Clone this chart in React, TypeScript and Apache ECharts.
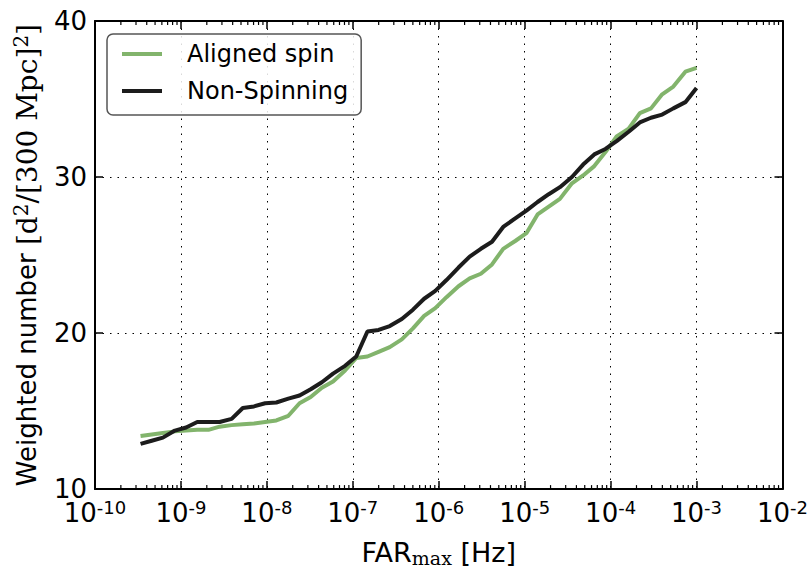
import React, { useEffect, useRef } from "react";
import * as echarts from "echarts";

// log10 of FAR_max [Hz] for each sample
const EXPONENTS = [
  -9.47, -9.34, -9.21, -9.07, -8.94, -8.81, -8.68, -8.55, -8.41, -8.28,
  -8.15, -8.02, -7.89, -7.75, -7.62, -7.49, -7.36, -7.23, -7.09, -6.96,
  -6.83, -6.7, -6.57, -6.43, -6.3, -6.17, -6.04, -5.91, -5.77, -5.64,
  -5.51, -5.38, -5.25, -5.11, -4.98, -4.85, -4.72, -4.59, -4.45, -4.32,
  -4.19, -4.06, -3.93, -3.79, -3.66, -3.53, -3.4, -3.27, -3.13, -3.0,
];

const ALIGNED_SPIN = [
  13.4, 13.5, 13.6, 13.7, 13.75, 13.8, 13.8, 14.0, 14.1, 14.15,
  14.2, 14.3, 14.4, 14.7, 15.5, 15.9, 16.5, 16.9, 17.6, 18.4,
  18.5, 18.8, 19.1, 19.6, 20.3, 21.1, 21.6, 22.3, 23.0, 23.5,
  23.8, 24.4, 25.4, 25.9, 26.4, 27.6, 28.1, 28.6, 29.6, 30.1,
  30.7, 31.6, 32.6, 33.1, 34.1, 34.4, 35.3, 35.8, 36.75, 37.0,
];

const NON_SPINNING = [
  12.9, 13.1, 13.3, 13.75, 13.95, 14.3, 14.3, 14.3, 14.5, 15.2,
  15.3, 15.5, 15.55, 15.8, 16.0, 16.4, 16.85, 17.4, 17.9, 18.5,
  20.1, 20.2, 20.45, 20.9, 21.5, 22.2, 22.7, 23.4, 24.2, 24.9,
  25.4, 25.85, 26.8, 27.35, 27.85, 28.4, 28.9, 29.35, 30.0, 30.8,
  31.45, 31.8, 32.3, 32.9, 33.5, 33.8, 34.0, 34.4, 34.8, 35.7,
];

const SERIES_NAMES = ["Aligned spin", "Non-Spinning"];
const SERIES_COLORS = ["#82b46c", "#1c1c1c"];

const X_MIN_EXP = -10;
const X_MAX_EXP = -2;
const MINOR_MULTIPLIERS = [2, 3, 4, 5, 6, 7, 8, 9];

const Y_MIN = 10;
const Y_MAX = 40;
const Y_INTERVAL = 10;

const SANS = "DejaVu Sans";
const SERIF = "DejaVu Serif";

export default function App() {
  const ref = useRef<HTMLDivElement>(null);

  useEffect(() => {
    if (!ref.current) return;
    const chart = echarts.init(ref.current, null, { renderer: "svg" });

    const toPairs = (vals: number[]) =>
      EXPONENTS.map((e, i) => [Math.pow(10, e), vals[i]]);

    const minorData: number[][] = [];
    for (let d = X_MIN_EXP; d < X_MAX_EXP; d++) {
      for (const m of MINOR_MULTIPLIERS) {
        minorData.push([m * Math.pow(10, d), Y_MIN]);
      }
    }

    const tickLabelRich = {
      b: { fontSize: 26, fontFamily: SANS, color: "#000", lineHeight: 30 },
      s: {
        fontSize: 18,
        fontFamily: SANS,
        color: "#000",
        lineHeight: 18,
        verticalAlign: "top",
        padding: [0, 0, 14, 0],
      },
    };

    const axisLine = { show: true, onZero: false, lineStyle: { color: "#000", width: 2 } };
    const majorTick = { show: true, inside: true, length: 8, lineStyle: { color: "#000", width: 1.5 } };
    const gridLine = { show: true, lineStyle: { color: "#000", width: 1, type: [1.5, 6] } };

    const xCommon = {
      type: "log",
      logBase: 10,
      min: Math.pow(10, X_MIN_EXP),
      max: Math.pow(10, X_MAX_EXP),
      splitNumber: 8,
      axisLine,
      axisTick: majorTick,
    };
    const yCommon = {
      type: "value",
      min: Y_MIN,
      max: Y_MAX,
      interval: Y_INTERVAL,
      axisLine,
      axisTick: majorTick,
    };

    chart.setOption({
      animation: false,
      backgroundColor: "#fff",
      textStyle: { fontFamily: SANS },
      grid: { left: 95, right: 25, top: 21, bottom: 74, containLabel: false },
      legend: {
        data: SERIES_NAMES,
        orient: "vertical",
        left: 107,
        top: 34,
        padding: [7, 13, 11, 15],
        itemGap: 11,
        itemWidth: 40,
        itemHeight: 4,
        icon: "rect",
        borderColor: "#555",
        borderWidth: 1.5,
        borderRadius: 6,
        backgroundColor: "rgba(255,255,255,0.85)",
        textStyle: {
          fontFamily: SANS,
          fontSize: 24,
          color: "#000",
          lineHeight: 26,
          padding: [0, 0, 0, 20],
        },
      },
      xAxis: [
        {
          ...xCommon,
          position: "bottom",
          splitLine: gridLine,
          axisLabel: {
            show: true,
            margin: 9,
            color: "#000",
            showMaxLabel: true,
            showMinLabel: true,
            formatter: (v: number) => {
              const e = Math.round(Math.log10(v));
              return `{b|10}{s|${e}}`;
            },
            rich: tickLabelRich,
          },
          name: "{a|FAR}{sub|max}{a| [Hz]}",
          nameLocation: "middle",
          nameGap: 39,
          nameTextStyle: {
            rich: {
              a: { fontSize: 27, fontFamily: SANS, color: "#000", lineHeight: 30 },
              sub: {
                fontSize: 19,
                fontFamily: SERIF,
                color: "#000",
                lineHeight: 19,
                verticalAlign: "bottom",
                padding: [13, 0, 0, 0],
              },
            },
          },
        },
        {
          ...xCommon,
          position: "top",
          splitLine: { show: false },
          axisLabel: { show: false },
        },
      ],
      yAxis: [
        {
          ...yCommon,
          position: "left",
          splitLine: gridLine,
          axisLabel: { show: true, margin: 8, color: "#000", fontSize: 26, fontFamily: SANS },
          name: "{a|Weighted number }{m|[d}{p|2}{m|/[300 Mpc]}{p|2}{m|]}",
          nameLocation: "middle",
          nameGap: 46,
          nameTextStyle: {
            rich: {
              a: { fontSize: 26, fontFamily: SANS, color: "#000", lineHeight: 32 },
              m: { fontSize: 28, fontFamily: SERIF, color: "#000", lineHeight: 32 },
              p: {
                fontSize: 20,
                fontFamily: SERIF,
                color: "#000",
                lineHeight: 20,
                verticalAlign: "top",
                padding: [0, 0, 12, 0],
              },
            },
          },
        },
        {
          ...yCommon,
          position: "right",
          splitLine: { show: false },
          axisLabel: { show: false },
        },
      ],
      series: [
        {
          name: SERIES_NAMES[0],
          type: "line",
          xAxisIndex: 0,
          yAxisIndex: 0,
          data: toPairs(ALIGNED_SPIN),
          showSymbol: false,
          symbol: "none",
          color: SERIES_COLORS[0],
          lineStyle: { width: 4, color: SERIES_COLORS[0] },
          z: 4,
        },
        {
          name: SERIES_NAMES[1],
          type: "line",
          xAxisIndex: 0,
          yAxisIndex: 0,
          data: toPairs(NON_SPINNING),
          showSymbol: false,
          symbol: "none",
          color: SERIES_COLORS[1],
          lineStyle: { width: 4, color: SERIES_COLORS[1] },
          z: 5,
        },
        {
          name: "minorTicks",
          type: "custom",
          xAxisIndex: 0,
          yAxisIndex: 0,
          silent: true,
          z: 3,
          data: minorData,
          renderItem: (params: any, api: any) => {
            const cs = params.coordSys;
            const x = api.coord([api.value(0), api.value(1)])[0];
            const yb = cs.y + cs.height;
            const yt = cs.y;
            const style = { stroke: "#000", lineWidth: 1.2 };
            return {
              type: "group",
              children: [
                { type: "line", shape: { x1: x, y1: yb, x2: x, y2: yb - 4 }, style },
                { type: "line", shape: { x1: x, y1: yt, x2: x, y2: yt + 4 }, style },
              ],
            };
          },
        },
      ],
    });

    return () => chart.dispose();
  }, []);

  return (
    <div
      ref={ref}
      style={{ position: "fixed", left: 0, top: 0, width: 811, height: 572 }}
    />
  );
}
